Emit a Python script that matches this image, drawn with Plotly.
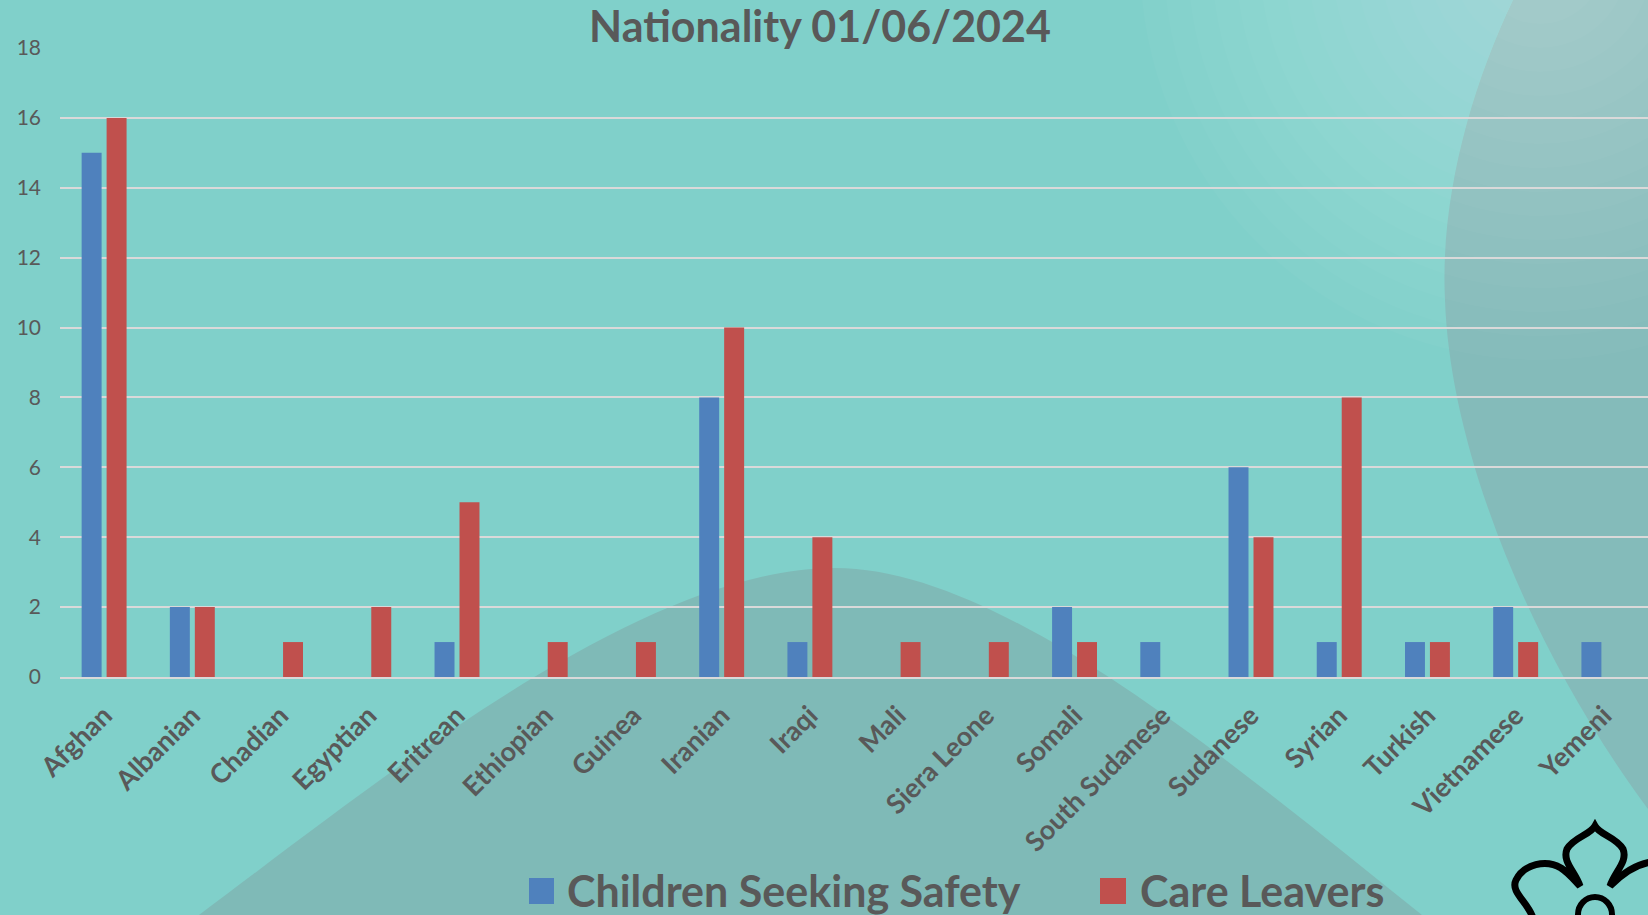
import plotly.graph_objects as go

# ---- data ----
categories = ["Afghan", "Albanian", "Chadian", "Egyptian", "Eritrean", "Ethiopian",
              "Guinea", "Iranian", "Iraqi", "Mali", "Siera Leone", "Somali",
              "South Sudanese", "Sudanese", "Syrian", "Turkish", "Vietnamese", "Yemeni"]
children_seeking_safety = [15, 2, 0, 0, 1, 0, 0, 8, 1, 0, 0, 2, 1, 6, 1, 1, 2, 1]
care_leavers = [16, 2, 1, 2, 5, 1, 1, 10, 4, 1, 1, 1, 0, 4, 8, 1, 1, 0]
series_names = ["Children Seeking Safety", "Care Leavers"]
y_ticks = [0, 2, 4, 6, 8, 10, 12, 14, 16, 18]
title_text = "Nationality 01/06/2024"

# ---- layout geometry (pixels) ----
W, H = 1648, 915
L, R, T, B = 60, 1648, 48, 677

def px(x):
    return (x - L) / (R - L)

def py(y):
    return (B - y) / (B - T)

def path_from(cmds):
    out = []
    for c in cmds:
        if isinstance(c, str):
            out.append(c)
        else:
            out.append(f"{px(c[0]):.5f},{py(c[1]):.5f}")
    return " ".join(out)

BLUE = "#4F81BD"
RED = "#C0504D"
TXT = "#595959"
TEAL = "#80D0CA"
GREY = "#7FBAB7"

fig = go.Figure()
fig.add_trace(go.Bar(x=categories, y=children_seeking_safety, name=series_names[0],
                     marker=dict(color=BLUE, line=dict(width=0)), showlegend=False))
fig.add_trace(go.Bar(x=categories, y=care_leavers, name=series_names[1],
                     marker=dict(color=RED, line=dict(width=0)), showlegend=False))

shapes = []
# bottom grey arc
shapes.append(dict(type="path", xref="paper", yref="paper", layer="below",
                   path=path_from(["M", (199, 915), "C", (380, 780), (640, 568), (835, 568),
                                   "C", (1000, 568), (1222, 755), (1422, 915), "Z"]),
                   fillcolor=GREY, line=dict(width=0)))
# right big circle
shapes.append(dict(type="path", xref="paper", yref="paper", layer="below",
                   path=path_from(["M", (1513, 0), "C", (1470, 90), (1440, 200), (1445, 300),
                                   "C", (1450, 450), (1530, 650), (1648, 809),
                                   "L", (1648, 0), "Z"]),
                   fillcolor="#84BBBA", line=dict(width=0)))
# soft light glow top right (many faint layers)
cx, cy = 1540, -40
for r in range(400, 30, -24):
    shapes.append(dict(type="circle", xref="paper", yref="paper", layer="below",
                       x0=px(cx - r), x1=px(cx + r), y0=py(cy + r), y1=py(cy - r),
                       fillcolor="white", opacity=0.024, line=dict(width=0)))
# logo (flower outline)
shapes.append(dict(type="path", xref="paper", yref="paper", layer="above",
                   path=path_from(["M", (1533, 918), "C", (1528, 902), (1510, 892), (1516, 880),
                                   "C", (1524, 864), (1546, 859), (1561, 868),
                                   "C", (1570, 874), (1575, 881), (1580, 886),
                                   "C", (1575, 871), (1562, 862), (1567, 849),
                                   "C", (1574, 837), (1590, 835), (1595, 826),
                                   "C", (1600, 835), (1616, 837), (1623, 849),
                                   "C", (1628, 862), (1615, 871), (1610, 886),
                                   "C", (1620, 876), (1634, 864), (1652, 862)]),
                   line=dict(color="black", width=7)))
shapes.append(dict(type="circle", xref="paper", yref="paper", layer="above",
                   x0=px(1578), x1=px(1612), y0=py(932), y1=py(897),
                   line=dict(color="black", width=6)))
# manual legend squares
shapes.append(dict(type="rect", xref="paper", yref="paper",
                   x0=px(529), x1=px(554), y0=py(904), y1=py(878),
                   fillcolor=BLUE, line=dict(width=0)))
shapes.append(dict(type="rect", xref="paper", yref="paper",
                   x0=px(1100), x1=px(1126), y0=py(904), y1=py(878),
                   fillcolor=RED, line=dict(width=0)))

annotations = [
    dict(text=series_names[0], xref="paper", yref="paper", x=px(565), y=py(890),
         xanchor="left", yanchor="middle", showarrow=False,
         font=dict(family="Lato", size=43, color=TXT, weight="bold")),
    dict(text=series_names[1], xref="paper", yref="paper", x=px(1138), y=py(890),
         xanchor="left", yanchor="middle", showarrow=False,
         font=dict(family="Lato", size=43, color=TXT, weight="bold")),
]

fig.update_layout(
    width=W, height=H,
    margin=dict(l=L, r=W - R, t=T, b=H - B, pad=0),
    paper_bgcolor=TEAL,
    plot_bgcolor="rgba(0,0,0,0)",
    barmode="group",
    bargap=0.434,
    bargroupgap=0.2,
    title=dict(text=title_text, x=820 / W, xanchor="center", xref="container",
               y=1 - 27 / H, yanchor="middle", yref="container",
               font=dict(family="Lato", size=43, color=TXT, weight="bold")),
    shapes=shapes,
    annotations=annotations,
    showlegend=False,
    xaxis=dict(
        tickangle=-45,
        tickfont=dict(family="Lato", size=27, color=TXT, weight="bold"),
        showgrid=False, showline=True, linecolor="#D9D9D9", linewidth=2,
        ticks="", ticklabelstandoff=10,
    ),
    yaxis=dict(
        range=[0, 18], tickvals=y_ticks, ticktext=[str(v) for v in y_ticks],
        tickfont=dict(family="Lato", size=21, color=TXT),
        showgrid=True, gridcolor="#D9D9D9", gridwidth=2,
        zeroline=False, showline=False, ticks="", ticklabelstandoff=18,
    ),
)

fig.write_html(
    "out.html",
    config={"displayModeBar": False},
    post_script=("document.body.style.margin='0';"
                 "document.body.style.overflow='hidden';"
                 "document.body.style.background='" + TEAL + "';"),
)
